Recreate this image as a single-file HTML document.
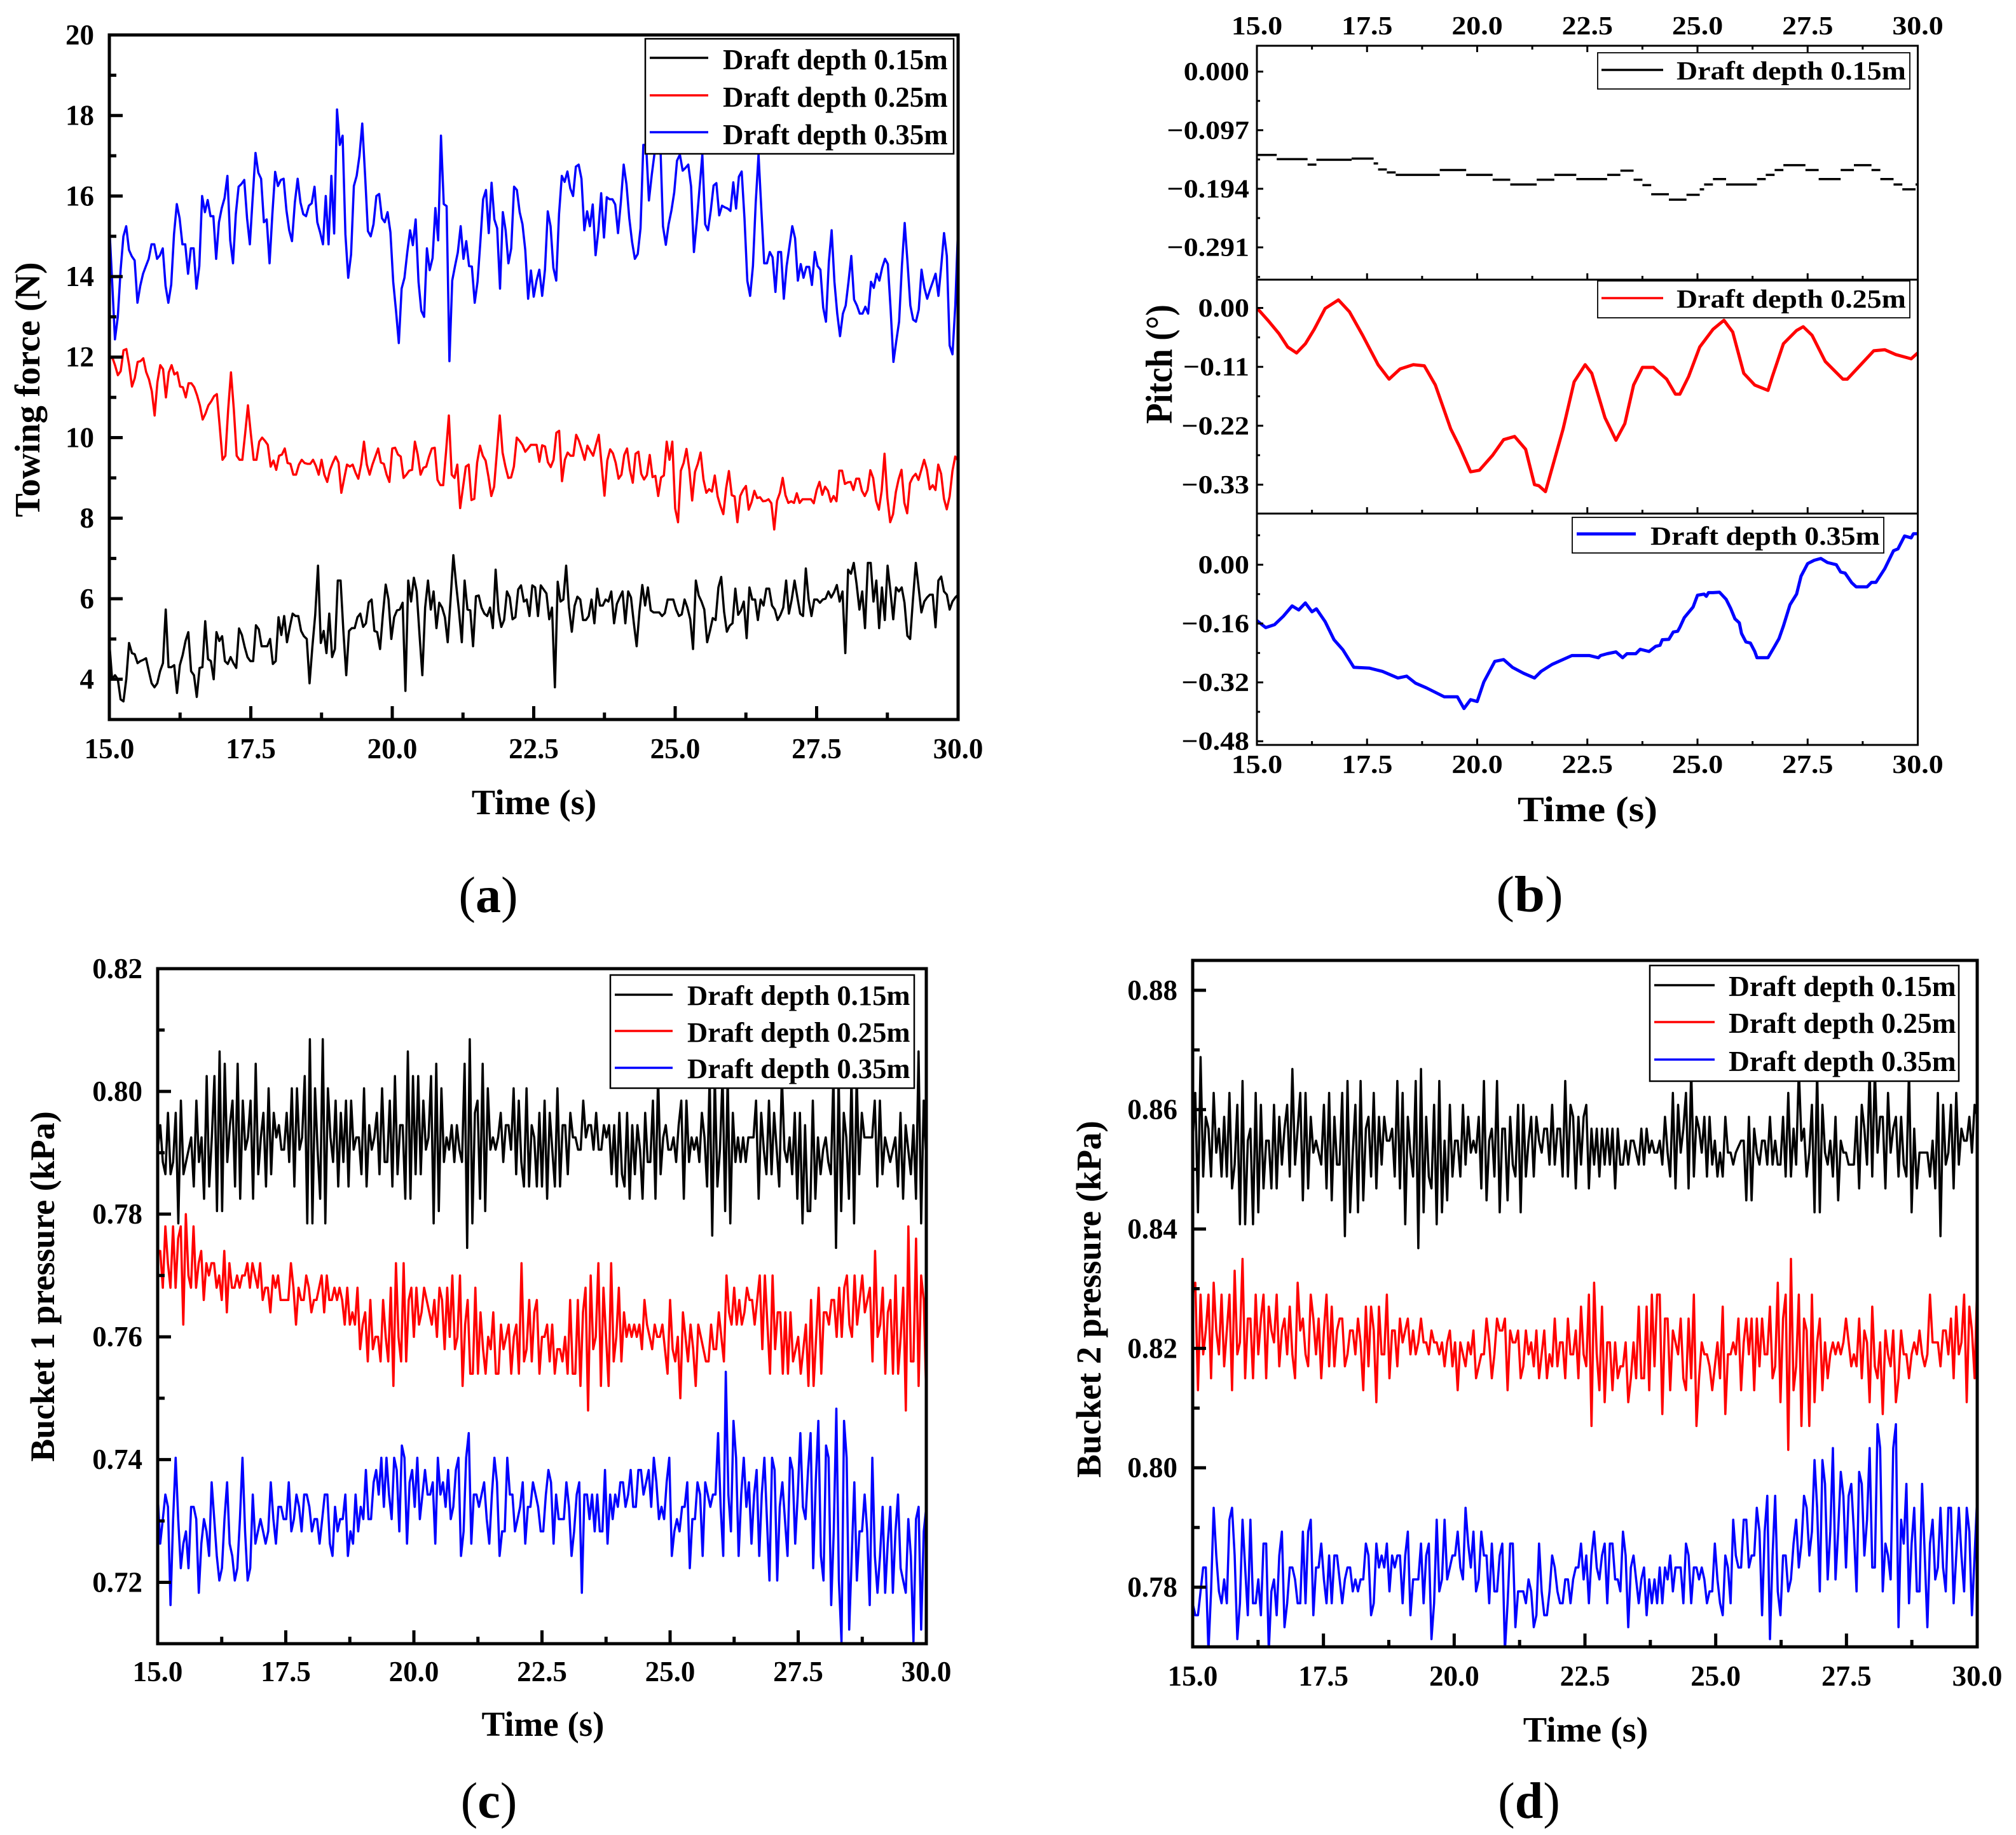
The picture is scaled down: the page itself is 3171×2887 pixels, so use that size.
<!DOCTYPE html>
<html lang="en">
<head>
<meta charset="utf-8">
<title>Draft depth time histories</title>
<style>
html,body{margin:0;padding:0;background:#fff;}
svg{display:block;}
text{font-family:"Liberation Serif","DejaVu Serif",serif;font-weight:bold;fill:#000;}
.leg{font-size:45px;}
.title{font-size:56px;}
.cap{font-size:80px;}
.cap .r{font-weight:normal;}
.legbox{fill:#fff;stroke:#000;}
</style>
</head>
<body>
<svg id="fig" xmlns="http://www.w3.org/2000/svg" width="3171" height="2887" viewBox="0 0 3171 2887">
<defs>
<clipPath id="clip-a"><rect x="172" y="55" width="1335" height="1077"/></clipPath>
<clipPath id="clip-c"><rect x="248" y="1524" width="1209" height="1062"/></clipPath>
<clipPath id="clip-d"><rect x="1876" y="1511" width="1234" height="1080"/></clipPath>
<clipPath id="clip-b1"><rect x="1977" y="72" width="1040" height="368"/></clipPath>
<clipPath id="clip-b2"><rect x="1977" y="440" width="1040" height="368"/></clipPath>
<clipPath id="clip-b3"><rect x="1977" y="808" width="1040" height="364"/></clipPath>
</defs>

<g id="layer-a"></g>
<g id="layer-b"></g>
<g id="layer-c"></g>
<g id="layer-d"></g>

<!-- panel a static -->
<text class="title" x="840" y="1281" text-anchor="middle">Time (s)</text>
<text class="title" transform="translate(62,613) rotate(-90)" text-anchor="middle">Towing force (N)</text>
<g>
<rect class="legbox" x="1015" y="61" width="485" height="181" stroke-width="2.5"/>
<line x1="1022" x2="1114" y1="91" y2="91" stroke="#000" stroke-width="3.5"/>
<line x1="1022" x2="1114" y1="150" y2="150" stroke="#f00" stroke-width="3.5"/>
<line x1="1022" x2="1114" y1="208" y2="208" stroke="#00f" stroke-width="3.5"/>
<text class="leg" x="1137" y="109">Draft depth 0.15m</text>
<text class="leg" x="1137" y="168">Draft depth 0.25m</text>
<text class="leg" x="1137" y="227">Draft depth 0.35m</text>
</g>
<text class="cap" x="768" y="1435" text-anchor="middle"><tspan class="r">(</tspan>a<tspan class="r">)</tspan></text>

<!-- panel b static -->
<text class="title" transform="translate(2497,1292) scale(1.12,1)" text-anchor="middle">Time (s)</text>
<text class="title" transform="translate(1843,573) rotate(-90) scale(1,1.12)" text-anchor="middle" style="font-size:53px">Pitch (°)</text>
<g>
<rect class="legbox" x="2513" y="83" width="491" height="57" stroke-width="1.8"/>
<line x1="2519" x2="2616" y1="110" y2="110" stroke="#000" stroke-width="3.5"/>
<text class="leg" transform="translate(2637,125) scale(1.12,1)" style="font-size:41px">Draft depth 0.15m</text>
</g>
<g>
<rect class="legbox" x="2513" y="442" width="491" height="58" stroke-width="1.8"/>
<line x1="2519" x2="2616" y1="469" y2="469" stroke="#f00" stroke-width="3.5"/>
<text class="leg" transform="translate(2637,484) scale(1.12,1)" style="font-size:41px">Draft depth 0.25m</text>
</g>
<g>
<rect class="legbox" x="2473" y="814" width="490" height="56" stroke-width="1.8"/>
<line x1="2480" x2="2573" y1="840" y2="840" stroke="#00f" stroke-width="5"/>
<text class="leg" transform="translate(2596,857) scale(1.12,1)" style="font-size:41px">Draft depth 0.35m</text>
</g>
<text class="cap" transform="translate(2406,1434) scale(1.08,1)" text-anchor="middle"><tspan class="r">(</tspan>b<tspan class="r">)</tspan></text>

<!-- panel c static -->
<text class="title" x="854" y="2731" text-anchor="middle" style="font-size:55px">Time (s)</text>
<text class="title" transform="translate(85,2024) rotate(-90)" text-anchor="middle" style="font-size:54px">Bucket 1 pressure (kPa)</text>
<g>
<rect class="legbox" x="960" y="1534" width="478" height="178" stroke-width="2.5"/>
<line x1="967" x2="1058" y1="1565" y2="1565" stroke="#000" stroke-width="3.5"/>
<line x1="967" x2="1058" y1="1622" y2="1622" stroke="#f00" stroke-width="3.5"/>
<line x1="967" x2="1058" y1="1680" y2="1680" stroke="#00f" stroke-width="3.5"/>
<text class="leg" x="1081" y="1581" style="font-size:44.6px">Draft depth 0.15m</text>
<text class="leg" x="1081" y="1639" style="font-size:44.6px">Draft depth 0.25m</text>
<text class="leg" x="1081" y="1696" style="font-size:44.6px">Draft depth 0.35m</text>
</g>
<text class="cap" x="769" y="2860" text-anchor="middle"><tspan class="r">(</tspan>c<tspan class="r">)</tspan></text>

<!-- panel d static -->
<text class="title" x="2494" y="2740" text-anchor="middle">Time (s)</text>
<text class="title" transform="translate(1731,2044) rotate(-90)" text-anchor="middle" style="font-size:55px">Bucket 2 pressure (kPa)</text>
<g>
<rect class="legbox" x="2595" y="1519" width="486" height="182" stroke-width="2.5"/>
<line x1="2602" x2="2697" y1="1550" y2="1550" stroke="#000" stroke-width="3.5"/>
<line x1="2602" x2="2697" y1="1608" y2="1608" stroke="#f00" stroke-width="3.5"/>
<line x1="2602" x2="2697" y1="1667" y2="1667" stroke="#00f" stroke-width="3.5"/>
<text class="leg" x="2719" y="1567" style="font-size:45.5px">Draft depth 0.15m</text>
<text class="leg" x="2719" y="1625" style="font-size:45.5px">Draft depth 0.25m</text>
<text class="leg" x="2719" y="1685" style="font-size:45.5px">Draft depth 0.35m</text>
</g>
<text class="cap" x="2405" y="2860" text-anchor="middle"><tspan class="r">(</tspan>d<tspan class="r">)</tspan></text>
</svg>

<script>
// ---------- shared axis data ----------
const timeTicks = [15, 17.5, 20, 22.5, 25, 27.5, 30];
const timeTickLabels = ['15.0', '17.5', '20.0', '22.5', '25.0', '27.5', '30.0'];

// ---------- panel (a) towing force, N ----------
const towingTicks = [4, 6, 8, 10, 12, 14, 16, 18, 20];
const towingTickLabels = ['4', '6', '8', '10', '12', '14', '16', '18', '20'];
const towing015 = [4.9,4,4.1,4,3.5,3.45,4,4.9,4.65,4.62,4.4,4.45,4.48,4.52,4.2,3.9,3.8,3.9,4.2,4.4,5.73,4.3,4.3,4.35,3.66,4.35,4.6,4.95,5.17,4.2,4.1,3.56,4.28,4.3,5.44,4.5,4.45,4,5.17,4.95,5.07,4.45,4.38,4.55,4.4,4.28,5.26,5.1,4.8,4.55,4.45,4.45,5.34,5.24,4.82,4.82,4.82,5,4.38,4.45,5.54,5.1,5.57,4.92,5.3,5.63,5.57,5.57,5.2,5.07,5,3.9,4.8,5.6,6.82,4.9,5.2,4.65,5.63,4.55,4.75,6.45,6.45,5.2,4.1,5.2,5.27,5.27,5.54,5.63,5.3,5.39,5.91,5.98,5.2,5.17,4.75,5.6,6.35,5.98,5,5.54,5.71,5.73,5.9,3.71,6.45,5.93,6.52,6.18,5.1,4.1,5.78,6.45,5.73,6.18,5.27,5.9,5.78,5.54,4.92,5.98,7.08,6.35,5.68,4.92,6.45,5.73,5.71,4.82,6.06,6.08,5.78,5.63,5.57,5.78,5.27,6.72,5.68,5.3,5.47,6.18,6.03,5.49,5.54,6.23,6.33,5.93,5.98,5.57,6.33,6.28,
5.57,6.33,6.23,6.13,5.49,5.78,3.8,6.42,5.93,5.98,6.82,5.78,5.18,5.82,6.05,5.98,5.47,5.47,5.57,5.98,5.39,6.25,5.83,5.83,5.98,5.93,6.18,5.39,5.87,6.03,6.18,5.39,6.18,6.03,5.39,4.82,5.68,6.34,5.83,6.28,5.71,5.66,5.66,5.66,5.57,5.64,5.98,5.98,5.98,5.73,5.57,5.61,5.98,5.78,5.49,4.75,6.45,6.08,5.93,5.73,4.92,5.2,5.52,5.47,6.28,6.54,5.68,5.18,5.33,5.39,6.25,5.6,5.71,5.93,5.02,6.28,5.98,5.98,5.47,5.98,5.83,6.25,6.25,5.83,5.73,5.47,5.6,5.78,6.45,5.63,5.98,6.45,6.03,5.63,5.57,6.75,5.98,5.57,5.98,5.98,5.9,5.98,6,6.18,6.03,6.16,6.34,5.93,6.18,4.65,6.72,6.62,6.89,6.37,5.73,6.18,5.27,6.89,6.89,5.93,6.45,5.27,6.28,5.47,6.82,6.18,5.49,6.28,6.18,6.28,5.9,5.08,5,5.98,6.89,6.28,5.66,5.93,6.03,6.1,6.1,5.29,6.45,6.55,6.18,6.1,5.73,5.93,6.03,6.1];
const towing025 = [11.95,12,11.8,11.55,11.65,12.17,12.2,11.8,11.27,11.48,11.88,11.9,11.97,11.63,11.45,11.15,10.55,11.38,11.8,11.7,11,11.62,11.8,11.57,11.62,11.27,11.25,11,11.35,11.35,11.25,11.05,10.8,10.45,10.6,10.8,10.9,11.03,11.08,10.3,9.45,9.55,10.7,11.62,10.7,9.55,9.45,9.45,10.1,10.8,10.1,9.45,9.45,9.9,10,9.92,9.82,9.28,9.43,9.2,9.55,9.58,9.73,9.37,9.35,9.08,9.08,9.33,9.45,9.37,9.35,9.35,9.45,9.3,9.08,9.45,9.08,8.9,9.2,9.38,9.53,9.38,8.63,8.98,9.33,9.28,9.33,9.13,8.98,9.33,9.9,9.33,9.08,9.33,9.53,9.73,9.38,9.35,9.08,8.9,9.73,9.75,9.58,9.53,9,9.08,9.18,9.2,9.9,9.58,9.08,9.25,9.28,9.53,9.73,9.75,8.95,8.82,8.82,9.63,10.55,9.08,9,9.33,8.25,8.77,9.28,9.33,8.45,8.48,9.38,9.8,9.55,9.43,9.03,8.55,8.78,9.67,10.55,9.63,9.28,9,9.01,9.28,10,9.92,9.82,9.65,9.73,9.82,9.82,9.82,9.4,
9.81,9.78,9.39,9.27,9.45,10.12,10.17,8.92,9.45,9.63,9.55,9.55,10.07,9.92,9.69,9.45,9.8,9.67,9.55,9.82,10.07,9.33,8.56,9.43,9.71,9.61,9.37,8.98,9.08,9.57,9.73,9.2,8.88,9.6,9.65,9.1,8.96,9.07,9.57,9.02,9.05,8.55,9.01,9.06,9.9,9.45,9.9,8.24,7.9,9.18,9.37,9.72,9.2,8.44,9.15,9.35,9.63,8.96,8.63,8.72,8.66,9.06,8.54,8.3,8.1,8.74,9.17,8.57,8.54,7.9,8.55,8.7,8.8,8.21,8.4,8.68,8.5,8.52,8.42,8.43,8.47,8.37,7.72,8.43,8.63,9,8.57,8.38,8.42,8.38,8.62,8.38,8.47,8.47,8.47,8.47,8.37,8.7,8.9,8.58,8.78,8.68,8.41,8.55,8.42,9.18,9.18,8.85,8.89,8.9,8.7,8.98,8.98,8.68,8.55,8.7,9.19,8.99,8.43,8.21,8.68,9.6,8.5,7.9,8.1,8.65,8.97,9.2,8.38,8.12,8.87,9.02,9.1,8.95,9.2,9.45,9.2,8.72,8.82,8.7,9.33,9.1,8.48,8.22,8.54,9.17,9.53,9.42];
const towing035 = [15.25,13.87,12.44,13,14.16,15,15.25,14.66,14.5,14.4,13.35,13.77,14.07,14.26,14.44,14.8,14.8,14.44,14.53,14.7,13.77,13.35,13.8,15.05,15.8,15.45,14.8,14.8,14.07,14.7,14.7,13.7,14.26,16,15.6,15.9,15.5,15.5,14.44,15.35,15.7,15.95,16.5,14.9,14.33,15.55,16.23,16.3,16.4,15.45,14.8,15.95,17.07,16.58,16.43,15.35,15.42,14.33,15.55,16.6,16.25,16.4,16.43,15.65,15.15,14.88,15.84,16.43,15.84,15.55,15.5,15.76,15.82,16.23,15.35,15.1,14.8,16,14.8,16.5,15.07,18.15,17.27,17.5,15.05,13.97,14.55,16.25,16.5,17,17.8,16.5,15.13,15,15.3,16,16.05,15.45,15.35,15.6,15.1,13.87,13.15,12.35,13.7,13.97,14.6,15.15,14.78,15.42,13.87,13.15,13,14.7,14.16,14.46,15.7,14.9,17.5,15.8,15.75,11.9,13.9,14.26,14.6,15.25,14.44,14.88,14.26,14.25,13.35,13.87,14.85,15.92,16.15,15.08,16.33,15.42,15.2,13.7,15.6,15.15,14.33,14.7,16.23,16.15,15.6,15.3,14.66,13.45,14.15,13.5,13.9,
14.17,13.52,14.17,15.62,15.25,14.22,13.9,15.55,16.5,16.35,16.61,16.19,16,16.73,16.78,16.43,15.15,15.62,15.25,15.79,14.53,15.15,16.07,14.97,15.97,15.92,15.92,15.79,15.08,15.84,16.78,16.29,15.45,14.86,14.44,14.56,15.2,17.27,17.27,15.89,16.53,17.07,17.72,17.42,15.25,14.79,15.3,15.64,16.09,16.88,17.03,16.63,16.7,16.78,16.24,14.61,15.35,16.19,17.03,15.3,15.15,15.64,16.26,16.32,15.52,15.76,15.72,15.69,15.63,16.34,15.69,16.48,16.61,15.45,13.89,13.52,14.26,15.84,17.03,15.64,14.33,14.33,14.61,14.48,13.62,14.61,14.61,13.45,14.26,14.76,15.25,14.95,13.9,14.31,13.97,14.24,14.24,13.79,14.61,14.26,14.17,13.23,12.88,14.36,15.15,13.87,13.08,12.52,13.08,13.28,13.87,14.51,13.43,13.28,13.08,13.08,13.25,13.08,13.87,13.72,14.07,13.9,14.22,14.44,14.31,13.18,11.88,12.39,12.88,14.26,15.33,14.36,13.28,12.93,12.88,13.18,14.17,13.72,13.45,13.67,13.87,14.07,13.52,14.26,15.08,14.51,12.29,12.07,13.28,15.25];

// ---------- panel (b) pitch, thousandths of a degree ----------
const pitch015Labels = ['0.000', '−0.097', '−0.194', '−0.291'];
const pitch015Ticks = [0, -97, -194, -291];
const pitch025Labels = ['0.00', '−0.11', '−0.22', '−0.33'];
const pitch025Ticks = [0, -110, -220, -330];
const pitch035Labels = ['0.00', '−0.16', '−0.32', '−0.48'];
const pitch035Ticks = [0, -160, -320, -480];
const pitch015 = [-138,-138,-138,-138,-138,-145,-145,-145,-145,-145,-145,-145,-154,-154,-146,-146,-146,-146,-146,-146,-146,-146,-144,-144,-144,-144,-144,-152,-162,-162,-167,-167,-171,-171,-171,-171,-171,-171,-171,-171,-171,-171,-163,-163,-163,-163,-163,-163,-171,-171,-171,-171,-171,-171,-179,-179,-179,-179,-187,-187,-187,-187,-187,-187,-179,-179,-179,-179,-171,-171,-171,-171,-171,-178,-178,-178,-178,-178,-178,-178,-171,-171,-171,-164,-164,-164,-179,-179,-188,-188,-203,-203,-203,-203,-212,-212,-212,-212,-204,-204,-204,-195,-187,-187,-178,-178,-178,-187,-187,-187,-187,-187,-187,-187,-178,-178,-171,-171,-163,-163,-155,-155,-155,-155,-155,-163,-163,-163,-178,-178,-178,-178,-178,-163,-163,-163,-155,-155,-155,-155,-163,-163,-178,-178,-178,-187,-187,-195,-195,-195,-187];
const pitch025Time = [15,15.25,15.5,15.7,15.9,16.1,16.3,16.55,16.85,17.1,17.4,17.75,18,18.25,18.55,18.8,19.05,19.4,19.6,19.85,20.05,20.35,20.6,20.85,21.1,21.3,21.4,21.55,21.8,21.95,22.2,22.45,22.6,22.9,23.15,23.35,23.55,23.75,24,24.3,24.5,24.6,24.8,25.05,25.35,25.6,25.8,26.05,26.3,26.6,26.7,26.95,27.25,27.4,27.6,27.9,28.3,28.4,28.65,29,29.25,29.5,29.85,30];
const pitch025 = [0,-23,-48,-73,-84,-67,-40,-1,15,-7,-51,-106,-133,-114,-106,-108,-144,-226,-259,-306,-303,-275,-246,-240,-264,-330,-332,-343,-270,-226,-138,-106,-122,-205,-247,-216,-144,-111,-111,-133,-161,-161,-128,-73,-40,-23,-45,-122,-144,-154,-128,-67,-42,-35,-51,-100,-133,-133,-111,-80,-78,-87,-95,-84];
const pitch035Time = [15,15.2,15.4,15.6,15.8,15.95,16.1,16.25,16.35,16.55,16.75,16.95,17.2,17.55,17.85,18.2,18.4,18.6,18.85,19.25,19.55,19.7,19.85,20,20.15,20.4,20.6,20.8,21.05,21.3,21.45,21.7,22.15,22.55,22.75,22.8,22.95,23.15,23.3,23.4,23.6,23.7,23.9,24.05,24.15,24.2,24.35,24.45,24.55,24.6,24.7,24.9,25,25.15,25.2,25.25,25.35,25.5,25.65,25.75,25.85,25.95,26,26.1,26.2,26.3,26.35,26.6,26.75,26.85,26.95,27.1,27.25,27.35,27.5,27.65,27.8,27.95,28.15,28.25,28.35,28.5,28.6,28.85,28.95,29.05,29.25,29.45,29.55,29.7,29.85,29.9,30];
const pitch035 = [-152,-171,-163,-140,-112,-123,-104,-128,-120,-155,-204,-231,-279,-281,-290,-308,-303,-322,-335,-359,-359,-391,-367,-372,-319,-263,-258,-279,-295,-308,-290,-271,-247,-247,-253,-247,-242,-237,-253,-242,-242,-230,-236,-222,-219,-204,-203,-183,-181,-170,-144,-115,-83,-80,-86,-76,-76,-75,-94,-118,-147,-158,-187,-210,-213,-236,-253,-253,-222,-201,-167,-109,-80,-31,3,12,17,6,0,-20,-23,-49,-60,-60,-48,-48,-11,38,43,78,73,84,84];

// ---------- panel (c) bucket 1 pressure, Pa ----------
const bucket1Ticks = [720, 740, 760, 780, 800, 820];
const bucket1TickLabels = ['0.72', '0.74', '0.76', '0.78', '0.80', '0.82'];
const bucket1Offset015 = 0.5;
const bucket1Offset035 = 0.3;
const bucket1015 = [790,794,788,786,796,786,788,796,778,798,786,788,790,792,784,798,788,792,782,802,784,792,802,780,806,780,804,788,794,798,784,804,782,798,790,792,798,782,804,786,792,796,784,800,786,796,792,794,790,790,796,788,800,784,800,790,792,802,778,808,778,800,790,782,808,778,800,792,788,798,784,796,788,798,784,798,790,792,792,786,800,784,794,790,792,796,786,800,788,788,798,784,802,786,794,794,782,806,782,802,786,802,786,798,790,792,802,778,804,780,800,788,792,790,794,788,794,790,788,804,774,808,778,796,798,782,804,780,800,790,792,790,792,796,788,794,794,790,800,786,798,788,784,800,784,794,792,784,796,784,798,
782,796,790,784,800,784,794,794,786,796,792,792,790,790,798,792,794,794,790,796,790,790,794,792,794,786,794,784,796,786,784,796,782,794,786,794,790,782,796,788,788,798,782,802,786,792,794,790,790,792,788,794,798,782,798,788,792,790,792,788,796,792,784,802,776,802,784,790,802,780,802,778,796,788,792,788,792,788,792,792,792,798,782,796,790,786,798,786,796,790,784,802,790,788,792,786,796,782,796,778,794,780,780,798,782,792,786,790,792,788,786,802,774,802,780,796,792,782,802,778,802,786,796,792,792,792,792,798,784,798,786,792,790,788,790,792,784,796,782,794,790,786,794,782,806,778,798,788];
const bucket1025 = [774,774,768,778,772,768,778,768,776,778,762,780,770,768,778,768,772,774,766,772,770,772,772,768,770,766,774,764,772,768,768,770,768,770,770,772,768,772,770,768,772,766,768,768,764,770,768,770,766,766,766,766,772,768,762,768,766,766,770,768,764,766,766,768,770,764,770,766,766,768,766,768,766,762,768,762,764,762,768,758,762,764,756,766,758,760,760,756,766,760,756,768,752,772,760,756,772,756,766,768,760,768,762,764,768,766,764,762,766,760,768,766,758,768,760,770,758,760,770,752,762,766,754,754,768,754,764,758,754,760,758,764,754,754,762,758,760,762,754,760,762,754,772,756,758,766,756,764,766,754,760,
760,762,756,762,754,758,758,756,760,754,766,754,754,766,752,764,768,748,770,758,760,772,752,768,760,752,772,756,760,768,756,764,760,762,760,762,760,762,758,766,762,760,758,762,760,760,762,758,754,766,758,756,760,750,764,760,756,762,758,752,762,760,758,756,756,762,758,758,764,760,756,770,764,762,768,762,766,762,764,768,766,766,762,766,770,758,770,762,754,770,758,764,764,754,764,754,764,756,758,760,754,758,762,752,766,752,760,768,754,764,764,762,766,766,760,768,760,768,770,762,760,770,762,766,770,764,766,768,756,774,760,762,768,754,764,766,754,770,754,760,768,748,778,756,756,776,752,770,766,750];
const bucket1035 = [734,726,730,734,732,716,730,740,730,722,726,728,722,732,732,730,718,726,730,728,724,736,730,724,720,722,730,736,726,724,720,722,730,740,728,720,722,734,726,728,730,728,726,728,736,730,726,732,732,730,730,736,728,730,734,732,728,734,734,732,728,730,730,726,730,734,734,726,724,732,728,730,730,734,724,728,726,734,728,732,730,738,730,730,736,738,734,740,732,740,734,730,740,738,728,742,740,726,736,738,732,740,730,734,738,734,734,736,726,740,734,736,732,738,730,732,738,740,724,728,740,744,726,734,734,732,734,736,730,726,734,740,736,724,728,728,740,734,734,728,730,732,736,726,732,732,736,734,732,728,728,
734,738,736,726,734,730,730,730,736,732,724,728,734,736,718,734,734,730,734,728,734,728,728,738,726,734,730,734,732,736,736,732,734,738,732,732,738,738,734,736,738,732,740,736,730,732,730,736,740,724,728,730,728,732,732,736,722,730,730,736,734,724,736,734,732,734,734,744,732,724,754,734,728,746,740,724,734,740,732,736,726,734,738,724,734,740,730,720,740,738,720,732,736,730,724,740,738,726,734,744,732,730,738,744,722,736,746,724,720,742,740,716,728,748,720,710,746,740,712,724,736,720,728,728,734,728,716,740,724,718,724,732,718,726,732,718,728,734,722,720,718,730,724,710,730,732,712,728,732];

// ---------- panel (d) bucket 2 pressure, Pa ----------
const bucket2Ticks = [780, 800, 820, 840, 860, 880];
const bucket2TickLabels = ['0.78', '0.80', '0.82', '0.84', '0.86', '0.88'];
const bucket2Offset015 = 0.8;
const bucket2Offset035 = 0.3;
const bucket2015 = [854,862,842,868,848,858,856,848,862,852,856,848,858,848,862,846,850,860,840,864,840,854,856,840,862,842,860,846,854,854,846,860,846,858,850,856,860,848,866,850,856,862,844,862,846,858,852,854,852,850,860,846,862,844,858,850,850,862,838,864,842,852,860,842,864,844,856,858,848,862,846,858,850,858,854,854,856,848,864,846,862,840,858,852,848,864,836,866,842,858,848,846,860,840,864,842,854,844,860,848,854,854,848,860,850,858,852,854,852,858,846,864,844,854,856,848,864,842,856,856,844,858,850,848,860,842,860,848,854,858,848,858,854,852,856,856,850,860,850,856,856,848,864,848,860,858,846,858,850,858,
860,846,856,850,856,848,856,850,856,850,856,846,856,850,850,854,850,854,854,852,850,856,850,856,852,854,852,852,854,850,858,852,848,862,846,860,852,856,862,846,866,848,858,856,852,858,848,858,850,854,848,852,848,858,852,852,850,852,853,854,854,844,858,844,856,852,850,854,854,850,858,850,854,850,850,858,848,862,848,856,850,866,854,856,848,852,860,842,866,842,860,852,850,854,848,858,844,854,852,852,850,850,850,858,846,860,856,850,866,848,866,852,858,858,846,862,852,856,858,848,858,850,848,866,842,856,846,852,852,852,852,848,854,846,862,838,860,850,852,860,846,862,850,856,854,854,858,852,860,858];
const bucket2025 = [829,831,813,829,819,823,829,815,831,823,819,829,817,823,829,813,833,819,821,835,815,825,825,815,829,819,825,829,815,827,823,821,829,817,823,825,819,827,819,815,831,823,825,819,817,829,825,819,825,815,823,829,817,827,817,823,825,825,817,819,823,823,819,825,821,813,827,817,827,823,811,827,819,819,829,815,823,823,817,825,821,823,825,819,823,819,821,825,821,821,819,823,821,821,819,821,817,821,823,817,821,813,821,819,817,821,819,823,815,817,819,819,825,821,815,819,825,823,823,825,813,823,821,821,823,815,817,823,819,821,817,823,815,819,823,815,819,817,825,817,821,821,815,825,819,819,823,815,827,819,
817,829,807,831,819,813,827,811,821,821,813,821,815,817,817,821,811,815,821,815,827,815,815,827,813,829,817,829,829,809,825,825,813,823,821,819,825,815,813,825,815,829,807,815,821,819,819,817,813,817,821,815,827,809,819,819,821,819,825,813,821,825,819,825,813,825,817,825,819,819,827,815,817,831,811,825,829,803,835,813,817,829,807,825,823,807,829,811,821,825,813,821,815,819,821,819,821,819,821,825,821,817,819,817,825,815,823,821,811,827,817,815,821,809,823,819,817,823,811,815,823,819,819,815,819,821,819,823,819,817,819,829,821,821,821,817,823,823,819,825,815,827,819,821,829,811,827,823,815,831];
const bucket2035 = [777,775,775,779,783,783,769,779,793,785,779,777,781,777,791,793,785,771,777,791,783,775,791,777,777,781,775,787,787,769,779,781,775,785,789,773,777,783,783,781,777,777,789,777,789,791,775,783,783,787,781,777,785,777,785,785,781,777,781,783,783,779,781,779,781,781,787,785,775,777,787,783,785,783,787,779,785,783,785,785,777,785,789,775,781,781,781,787,777,785,787,771,777,791,779,781,791,781,783,785,785,789,783,781,793,787,783,789,779,781,789,785,785,777,787,779,779,785,787,769,777,787,787,773,779,779,779,777,781,779,773,775,787,779,775,775,779,785,783,779,777,777,781,781,777,781,783,783,787,781,
785,777,785,789,783,781,785,787,777,787,787,781,781,779,789,785,773,783,785,781,777,781,783,775,781,777,781,777,783,777,783,781,785,779,783,783,783,777,787,785,777,783,783,781,783,781,777,779,779,787,781,777,775,785,783,777,791,785,783,783,791,791,783,785,785,793,789,775,789,795,771,785,795,779,775,785,785,779,781,787,791,783,787,795,793,785,789,801,793,779,801,797,781,789,803,781,789,799,795,783,795,797,789,779,799,797,785,791,803,783,783,807,803,779,787,785,781,803,807,773,791,787,797,777,787,793,779,779,797,785,773,787,791,781,783,793,783,779,793,793,777,785,793,785,779,793,789,775,785,795];

// ---------- rendering ----------
const svg = document.getElementById('fig');
const NS = 'http://www.w3.org/2000/svg';
const tFrom = 15, tTo = 30;

function scale(d0, d1, r0, r1) {
  return v => r0 + (v - d0) * (r1 - r0) / (d1 - d0);
}

let xScaleCurrent = null;

function seqPath(values, xs, y, offset) {
  let d = '';
  for (let i = 0; i < values.length; i++) {
    const t = xs ? xs[i] : tFrom + (tTo - tFrom) * i / (values.length - 1);
    d += (i ? 'L' : 'M') + xScaleCurrent(t).toFixed(1) + ' ' + y(values[i] + (offset || 0)).toFixed(1);
  }
  return d;
}

function addSeries(parent, values, y, color, width, clip, name, xs, offset) {
  const p = document.createElementNS(NS, 'path');
  p.setAttribute('d', seqPath(values, xs, y, offset));
  p.setAttribute('fill', 'none');
  p.setAttribute('stroke', color);
  p.setAttribute('stroke-width', width);
  p.setAttribute('stroke-linejoin', 'round');
  p.setAttribute('clip-path', 'url(#' + clip + ')');
  
  
  parent.appendChild(p);
}

function addStepSeries(parent, values, y, color, width, clip, name) {
  const step = (tTo - tFrom) / (values.length - 1);
  let d = '';
  for (let i = 0; i < values.length; i++) {
    const t = tFrom + step * i;
    const x0 = xScaleCurrent(t - step * 0.5);
    const x1 = xScaleCurrent(t + step * 0.5);
    d += 'M' + x0.toFixed(1) + ' ' + y(values[i]).toFixed(1) + 'L' + x1.toFixed(1) + ' ' + y(values[i]).toFixed(1);
  }
  const p = document.createElementNS(NS, 'path');
  p.setAttribute('d', d);
  p.setAttribute('fill', 'none');
  p.setAttribute('stroke', color);
  p.setAttribute('stroke-width', width);
  p.setAttribute('clip-path', 'url(#' + clip + ')');
  
  
  parent.appendChild(p);
}

function addLine(parent, x1, y1, x2, y2, w, name) {
  const l = document.createElementNS(NS, 'line');
  l.setAttribute('x1', x1);
  l.setAttribute('y1', y1);
  l.setAttribute('x2', x2);
  l.setAttribute('y2', y2);
  l.setAttribute('stroke', '#000');
  l.setAttribute('stroke-width', w);
  
  
  parent.appendChild(l);
}

function addLabel(parent, str, x, y, anchor, size, sx, name) {
  const t = document.createElementNS(NS, 'text');
  t.textContent = str;
  t.setAttribute('transform', 'translate(' + x + ',' + y + ') scale(' + sx + ',1)');
  t.setAttribute('text-anchor', anchor);
  t.setAttribute('font-size', size);
  
  
  parent.appendChild(t);
}

function addFrame(parent, L, T, R, B, w, name) {
  const r = document.createElementNS(NS, 'rect');
  r.setAttribute('x', L);
  r.setAttribute('y', T);
  r.setAttribute('width', R - L);
  r.setAttribute('height', B - T);
  r.setAttribute('fill', 'none');
  r.setAttribute('stroke', '#000');
  r.setAttribute('stroke-width', w);
  
  
  parent.appendChild(r);
}

function xAxis(parent, x, yBase, dir, w, maj, min, labelY, size, sx, showLabels) {
  for (let i = 0; i < timeTicks.length; i++) {
    const px = x(timeTicks[i]);
    addLine(parent, px, yBase, px, yBase + dir * maj, w, 'x-major-tick');
    if (i + 1 < timeTicks.length) {
      const m = x((timeTicks[i] + timeTicks[i + 1]) / 2);
      addLine(parent, m, yBase, m, yBase + dir * min, w, 'x-minor-tick');
    }
    if (showLabels) addLabel(parent, timeTickLabels[i], px, labelY, 'middle', size, sx, 'x-tick-label');
  }
}

function yAxis(parent, y, xBase, ticks, labels, extraMinors, w, maj, min, labelX, size, sx) {
  for (let i = 0; i < ticks.length; i++) {
    const py = y(ticks[i]);
    addLine(parent, xBase, py, xBase + maj, py, w, 'y-major-tick');
    addLabel(parent, labels[i], labelX, py + size * 0.33, 'end', size, sx, 'y-tick-label');
  }
  for (let i = 0; i < extraMinors.length; i++) {
    const py = y(extraMinors[i]);
    addLine(parent, xBase, py, xBase + min, py, w, 'y-minor-tick');
  }
}

function midTicks(ticks, extra) {
  const out = [];
  for (let i = 0; i + 1 < ticks.length; i++) out.push((ticks[i] + ticks[i + 1]) / 2);
  if (extra) for (const e of extra) out.push(e);
  return out;
}

// Panel A
(function () {
  const g = document.getElementById('layer-a');
  const L = 172, R = 1507, T = 55, B = 1132;
  xScaleCurrent = scale(tFrom, tTo, L, R);
  const y = scale(3, 20, B, T);
  addSeries(g, towing015, y, '#000', 3.5, 'clip-a', 'a-series-draft-015');
  addSeries(g, towing025, y, '#f00', 3.5, 'clip-a', 'a-series-draft-025');
  addSeries(g, towing035, y, '#00f', 3.5, 'clip-a', 'a-series-draft-035');
  xAxis(g, xScaleCurrent, B, -1, 5, 21, 11, 1193, 45, 1, true);
  yAxis(g, y, L, towingTicks, towingTickLabels, midTicks(towingTicks), 5, 21, 11, 148, 45, 1);
  addFrame(g, L, T, R, B, 5, 'a-plot-frame');
})();

// Panel B
(function () {
  const g = document.getElementById('layer-b');
  const L = 1977, R = 3016.5, d1 = 72, d2 = 440, d3 = 808, d4 = 1172;
  const x = scale(tFrom, tTo, L, R);
  xScaleCurrent = x;
  const y1 = scale(-344.5, 42.8, d2, d1);
  const y2 = scale(-384, 52.8, d3, d2);
  const y3 = scale(-490, 139, d4, d3);
  addStepSeries(g, pitch015, y1, '#000', 3.5, 'clip-b1', 'b-series-draft-015');
  addSeries(g, pitch025, y2, '#f00', 5, 'clip-b2', 'b-series-draft-025', pitch025Time);
  addSeries(g, pitch035, y3, '#00f', 5, 'clip-b3', 'b-series-draft-035', pitch035Time);
  yAxis(g, y1, L, pitch015Ticks, pitch015Labels, midTicks(pitch015Ticks, [-340]), 3, 10, 5, 1965, 41, 1.12);
  yAxis(g, y2, L, pitch025Ticks, pitch025Labels, midTicks(pitch025Ticks), 3, 10, 5, 1965, 41, 1.12);
  yAxis(g, y3, L, pitch035Ticks, pitch035Labels, midTicks(pitch035Ticks, [80]), 3, 10, 5, 1965, 41, 1.12);
  xAxis(g, x, d1, 1, 3, 10, 6, 54, 41, 1.12, true);
  xAxis(g, x, d2, -1, 3, 10, 6, 0, 41, 1.12, false);
  xAxis(g, x, d3, -1, 3, 10, 6, 0, 41, 1.12, false);
  xAxis(g, x, d4, -1, 3, 10, 6, 1216, 41, 1.12, true);
  addFrame(g, L, d1, R, d2, 3, 'b-top-frame');
  addFrame(g, L, d2, R, d3, 3, 'b-middle-frame');
  addFrame(g, L, d3, R, d4, 3, 'b-bottom-frame');
})();

// Panel C
(function () {
  const g = document.getElementById('layer-c');
  const L = 248, R = 1457, T = 1524, B = 2586;
  xScaleCurrent = scale(tFrom, tTo, L, R);
  const y = scale(710, 820, B, T);
  addSeries(g, bucket1015, y, '#000', 3.5, 'clip-c', 'c-series-draft-015', null, bucket1Offset015);
  addSeries(g, bucket1025, y, '#f00', 3.5, 'clip-c', 'c-series-draft-025');
  addSeries(g, bucket1035, y, '#00f', 3.5, 'clip-c', 'c-series-draft-035', null, bucket1Offset035);
  xAxis(g, xScaleCurrent, B, -1, 5, 21, 11, 2645, 45, 1, true);
  yAxis(g, y, L, bucket1Ticks, bucket1TickLabels, midTicks(bucket1Ticks), 5, 21, 11, 224, 45, 1);
  addFrame(g, L, T, R, B, 5, 'c-plot-frame');
})();

// Panel D
(function () {
  const g = document.getElementById('layer-d');
  const L = 1876, R = 3110, T = 1511, B = 2591;
  xScaleCurrent = scale(tFrom, tTo, L, R);
  const y = scale(770, 885, B, T);
  addSeries(g, bucket2015, y, '#000', 3.5, 'clip-d', 'd-series-draft-015', null, bucket2Offset015);
  addSeries(g, bucket2025, y, '#f00', 3.5, 'clip-d', 'd-series-draft-025');
  addSeries(g, bucket2035, y, '#00f', 3.5, 'clip-d', 'd-series-draft-035', null, bucket2Offset035);
  xAxis(g, xScaleCurrent, B, -1, 5, 21, 11, 2652, 45, 1, true);
  yAxis(g, y, L, bucket2Ticks, bucket2TickLabels, midTicks(bucket2Ticks, [770]), 5, 21, 11, 1852, 45, 1);
  addFrame(g, L, T, R, B, 5, 'd-plot-frame');
})();
</script>
</body>
</html>
